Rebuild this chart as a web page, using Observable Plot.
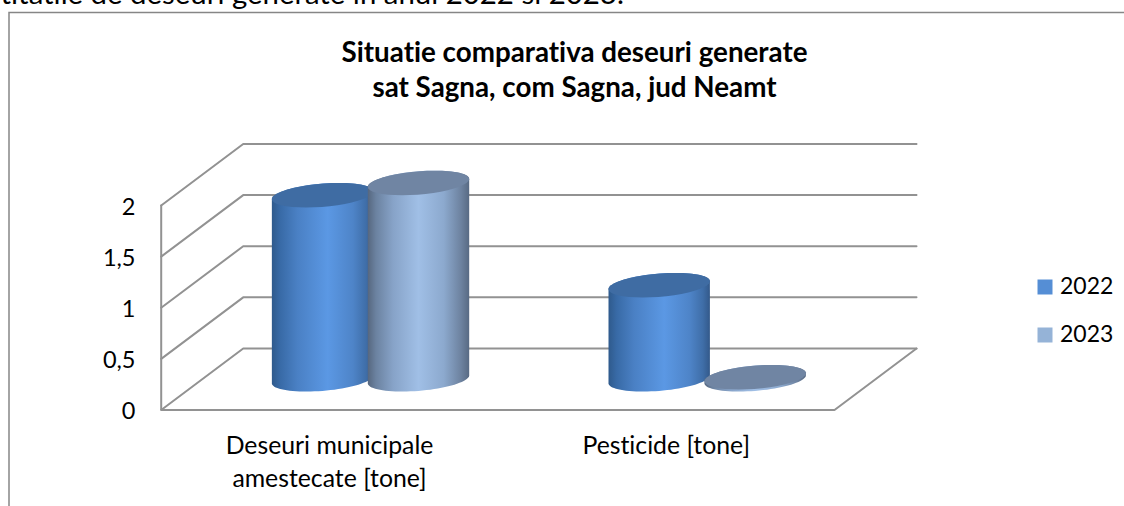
<!DOCTYPE html>
<html>
<head>
<meta charset="utf-8">
<style>html,body{margin:0;padding:0;background:#fff;overflow:hidden} svg text{font-variant-ligatures:none}</style>
<script src="https://cdn.jsdelivr.net/npm/d3@7"></script>
<script src="https://cdn.jsdelivr.net/npm/@observablehq/plot@0.6"></script>
</head>
<body>
<div id="chart"></div>
<script>
const clippedSentence = "titatile de deseuri generate in anul 2022 si 2023.";
const titleLines = ["Situatie comparativa deseuri generate", "sat Sagna, com Sagna, jud Neamt"];
const categories = ["Deseuri municipale\namestecate [tone]", "Pesticide [tone]"];
const years = ["2022", "2023"];
const values2022 = [1.8, 0.92];
const values2023 = [1.92, 0.02];
const yTicks = [0, 0.5, 1, 1.5, 2];
const colors = {"2022": "#558ed5", "2023": "#95b3d7"};
const capColors = {"2022": "#3f6ca3", "2023": "#7085a3"};

// oblique projection: depth 0..1 shifts a point along x and up the value axis
const depthX = 0.2436, depthV = 0.6015;
const project = (x, v, d) => ({x: x + d * depthX, y: v + d * depthV});
const FONT = "Lato, 'Open Sans', sans-serif";

const gridPts = yTicks.flatMap(v => [
  {...project(0, v, 0), g: v},
  {...project(0, v, 1), g: v},
  {...project(2, v, 1), g: v}
]);
const wall = [project(0, 2, 0), project(0, 0, 0), project(2, 0, 0), project(2, 0, 1)];

// cylinder outline, from the category slot and the value
const rx = 0.1425, rd = 0.2, barW = 0.285;
const t0 = Math.atan2(rd * depthX, rx);
const pt = (cx, v, t) => project(cx + rx * Math.cos(t), v, 0.5 + rd * Math.sin(t));
const arc = (cx, v, a, b) => d3.range(41).map(i => pt(cx, v, a + (b - a) * i / 40));
const bars = categories.flatMap((c, i) => years.map((y, j) => ({
  year: y,
  cx: i + 0.5 + (j === 0 ? -barW / 2 : barW / 2),
  v: (j === 0 ? values2022 : values2023)[i]
})));
const body = b => [...arc(b.cx, 0, t0, t0 - Math.PI), ...arc(b.cx, b.v, t0 + Math.PI, t0)];
const cap = b => arc(b.cx, b.v, 0, 2 * Math.PI);

const grad = (id, stops) => `<linearGradient id="${id}" x1="0" x2="1" y1="0" y2="0">` +
  stops.map(([o, c]) => `<stop offset="${o}" stop-color="${c}"/>`).join("") + `</linearGradient>`;
const defs = () => {
  const g = document.createElementNS("http://www.w3.org/2000/svg", "g");
  g.innerHTML = "<defs>" +
    grad("g2022", [[0, "#2f5a8c"], [0.08, "#386aa6"], [0.25, "#4a80c4"], [0.55, "#5b98e4"], [0.8, "#4e84c8"], [0.93, "#3f6ea8"], [1, "#33598a"]]) +
    grad("g2023", [[0, "#56677f"], [0.08, "#6b82a0"], [0.25, "#87a3c8"], [0.5, "#a0bfe6"], [0.75, "#8ca9ce"], [0.92, "#6d829f"], [1, "#586a83"]]) +
    "</defs>";
  return g;
};

const chart = Plot.plot({
  width: 1124, height: 506,
  marginTop: 0, marginRight: 0, marginBottom: 0, marginLeft: 0,
  style: {background: "#fff", fontFamily: FONT, color: "#000"},
  x: {type: "linear", domain: [0, 2], range: [160.7, 834], axis: null},
  y: {type: "linear", domain: [0, 2], range: [409.5, 205], axis: null},
  marks: [
    defs,
    Plot.frame({stroke: "#868686", strokeWidth: 1.5, insetLeft: 8.5, insetTop: 12, insetRight: -10, insetBottom: -10}),
    Plot.text([clippedSentence], {frameAnchor: "top-left", textAnchor: "start", lineAnchor: "bottom", dx: 0, dy: 3.5, fontSize: 29.4, fill: "#000"}),
    Plot.text([titleLines[0]], {frameAnchor: "top-left", textAnchor: "middle", lineAnchor: "middle", dx: 574, dy: 52.5, fontSize: 27.75, fontWeight: 700, fill: "#000"}),
    Plot.text([titleLines[1]], {frameAnchor: "top-left", textAnchor: "middle", lineAnchor: "middle", dx: 574, dy: 88, fontSize: 27.75, fontWeight: 700, fill: "#000"}),
    Plot.line(gridPts, {x: "x", y: "y", z: "g", stroke: "#929292", strokeWidth: 2, curve: "linear", strokeLinejoin: "miter"}),
    Plot.line(wall, {x: "x", y: "y", stroke: "#929292", strokeWidth: 2, curve: "linear", strokeLinejoin: "miter"}),
    Plot.axisY({anchor: "left", ticks: yTicks, dx: 135, dy: 1.5, tickSize: 0, tickPadding: 0, label: null, fontSize: 23.5, tickFormat: d => String(d).replace(".", ",")}),
    Plot.text(categories, {x: (d, i) => i + 0.5, y: () => 0, text: d => d, lineAnchor: "top", dy: 21, lineHeight: 1.33, fontSize: 24.8, fill: "#000"}),
    ...bars.flatMap(b => [
      Plot.line(body(b), {x: "x", y: "y", fill: `url(#g${b.year})`, stroke: "none", curve: "linear"}),
      Plot.line(cap(b), {x: "x", y: "y", fill: capColors[b.year], stroke: "none", curve: "linear"})
    ]),
    ...years.flatMap((y, i) => [
      Plot.dot([y], {frameAnchor: "top-left", dx: 1044.5, dy: 286.5 + i * 48, symbol: "square", r: 8.46, fill: colors[y], stroke: "none"}),
      Plot.text([y], {frameAnchor: "top-left", textAnchor: "start", lineAnchor: "middle", dx: 1059.5, dy: 286 + i * 48, fontSize: 23, fill: "#000"})
    ])
  ]
});
document.getElementById("chart").append(chart);
</script>
</body>
</html>
